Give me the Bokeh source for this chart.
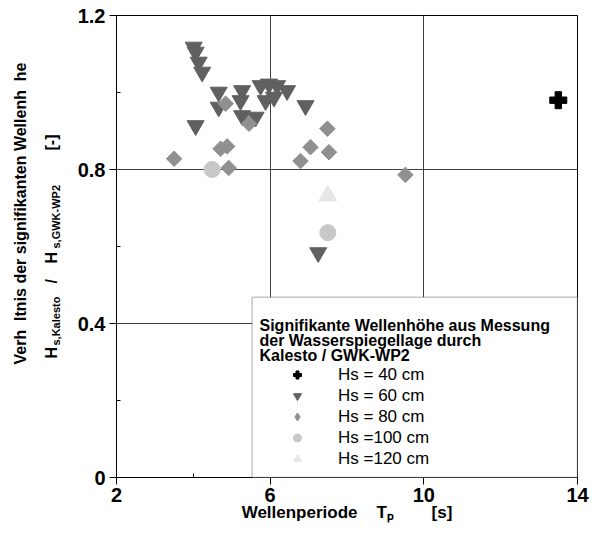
import math
from bokeh.plotting import figure
from bokeh.layouts import row, column
from bokeh.models import FixedTicker, Label, BoxAnnotation, Legend, LegendItem
from bokeh.embed import file_html
from bokeh.resources import INLINE

# ---- data ----
x_ticks = [2, 6, 10, 14]
x_minor = [4, 8, 12]
y_ticks = [0, 0.4, 0.8, 1.2]
y_minor = [0.2, 0.6, 1.0]
y_tick_labels = ["0", "0.4", "0.8", "1.2"]

hs40_T = [13.5]
hs40_v = [0.98]

hs60_T = [4.01, 4.06, 4.14, 4.23, 4.66, 4.66, 4.06, 5.27, 5.23, 5.27, 5.62,
          5.75, 5.97, 6.18, 5.88, 6.10, 6.44, 6.92, 7.25]
hs60_v = [1.118, 1.105, 1.079, 1.053, 1.001, 0.962, 0.914, 1.005, 0.979, 0.940, 0.936,
          1.018, 1.022, 1.018, 0.979, 0.988, 1.005, 0.966, 0.584]

hs80_T = [3.50, 4.84, 5.45, 4.71, 4.88, 4.92, 6.79, 7.05, 7.49, 7.53, 9.52]
hs80_v = [0.828, 0.971, 0.919, 0.854, 0.860, 0.804, 0.822, 0.858, 0.906, 0.845, 0.786]

hs100_T = [4.49, 7.50]
hs100_v = [0.800, 0.636]

hs120_T = [7.50]
hs120_v = [0.732]

legend_labels = ["Hs = 40 cm", "Hs = 60 cm", "Hs = 80 cm", "Hs =100 cm", "Hs =120 cm"]
legend_title = ["Signifikante Wellenhöhe aus Messung",
                "der Wasserspiegellage durch",
                "Kalesto / GWK-WP2"]
x_title = "Wellenperiode \u00a0 \u00a0T\u209a \u00a0 \u00a0 \u00a0 \u00a0[s]"
y_title_1 = "Verh \u00a0ltnis der signifikanten Wellenh \u00a0he"

FONT = "Liberation Sans"

# ---------------- main plot ----------------
p = figure(width=525, height=529, x_range=(2, 14), y_range=(0, 1.2),
           output_backend="svg", toolbar_location=None,
           min_border_left=46, min_border_right=18, min_border_top=15, min_border_bottom=52)
p.background_fill_color = "white"
p.border_fill_color = "white"
p.outline_line_color = "black"
p.outline_line_width = 1

p.xaxis.ticker = FixedTicker(ticks=x_ticks, minor_ticks=x_minor)
p.yaxis.ticker = FixedTicker(ticks=y_ticks, minor_ticks=y_minor)
p.yaxis.major_label_overrides = {t: s for t, s in zip(y_ticks, y_tick_labels)}

for ax in (p.xaxis[0], p.yaxis[0]):
    ax.axis_line_color = "black"
    ax.axis_line_width = 1
    ax.major_tick_out = 7
    ax.major_tick_in = 0
    ax.minor_tick_in = 4
    ax.minor_tick_out = 0
    ax.major_tick_line_color = "black"
    ax.minor_tick_line_color = "black"
    ax.major_label_text_font = FONT
    ax.major_label_text_font_style = "bold"
    ax.major_label_text_font_size = "20px"
    ax.major_label_text_color = "black"
p.xaxis.major_label_standoff = 3
p.yaxis.major_label_standoff = 4

p.xaxis.axis_label = x_title
p.xaxis.axis_label_text_font = FONT
p.xaxis.axis_label_text_font_style = "bold"
p.xaxis.axis_label_text_font_size = "17px"
p.xaxis.axis_label_text_color = "black"
p.xaxis.axis_label_standoff = -2

p.grid.grid_line_color = "#404040"
p.grid.grid_line_width = 1

r40 = p.scatter(hs40_T, hs40_v, marker="plus", size=17, fill_color="black", line_color="black")
r60 = p.scatter(hs60_T, hs60_v, marker="inverted_triangle", size=17,
                fill_color="#606060", line_color="#606060")
r80 = p.scatter(hs80_T, hs80_v, marker="square", angle=math.pi / 4, size=11,
                fill_color="#909090", line_color="#909090")
r100 = p.scatter(hs100_T, hs100_v, marker="circle", size=16,
                 fill_color="#c8c8c8", line_color="#c8c8c8")
r120 = p.scatter(hs120_T, hs120_v, marker="triangle", size=18,
                 fill_color="#e6e6e6", line_color="#e6e6e6")
# legend key for the diamond series (the legend ignores marker angle); holds no visible point
r80_key = p.scatter(x=[float("nan")], y=[float("nan")], marker="diamond", size=14,
                    fill_color="#909090", line_color="#909090")

# legend frame
box = BoxAnnotation(left=5.53, right=14, bottom=0, top=0.468,
                    fill_color="white", fill_alpha=1.0,
                    line_color="#404040", line_width=1.5)
p.add_layout(box)

for i, t in enumerate(legend_title):
    p.add_layout(Label(x=143, y=152 - 15 * i, x_units="screen", y_units="screen", text=t,
                       text_font=FONT, text_font_style="bold", text_font_size="16px",
                       text_baseline="alphabetic", text_align="left", text_color="black"))

legend = Legend(items=[LegendItem(label=l, renderers=[r]) for l, r in
                       zip(legend_labels, [r40, r60, r80_key, r100, r120])],
                location=(171, 8), glyph_width=20, glyph_height=21, spacing=0,
                padding=0, margin=0, label_standoff=31, label_height=21,
                border_line_alpha=0, background_fill_alpha=0,
                label_text_font=FONT, label_text_font_size="17px", label_text_color="black")
p.add_layout(legend)

# ---------------- y-axis title strip ----------------
yt = figure(width=70, height=529, x_axis_type=None, y_axis_type=None,
            output_backend="svg", toolbar_location=None, min_border=0)
yt.outline_line_color = None
yt.background_fill_color = "white"
yt.border_fill_color = "white"
yt.grid.visible = False


def ylab(text, x, y, size, align="left"):
    yt.add_layout(Label(x=x, y=y, x_units="screen", y_units="screen", text=text, angle=math.pi / 2,
                        text_font=FONT, text_font_style="bold", text_font_size=size,
                        text_align=align, text_baseline="middle", text_color="black"))


ylab(y_title_1, 20, 316, "16px", "center")
ylab("H", 51, 171, "16px")
ylab("s,Kalesto", 55, 184, "11px")
ylab("/", 51, 246, "16px")
ylab("H", 51, 266, "16px")
ylab("s,GWK-WP2", 55, 281, "11px")
ylab("[-]", 51, 379, "16px")

layout = row(yt, column(p, spacing=0), spacing=0)

open("out.html", "w").write(file_html(layout, INLINE))
